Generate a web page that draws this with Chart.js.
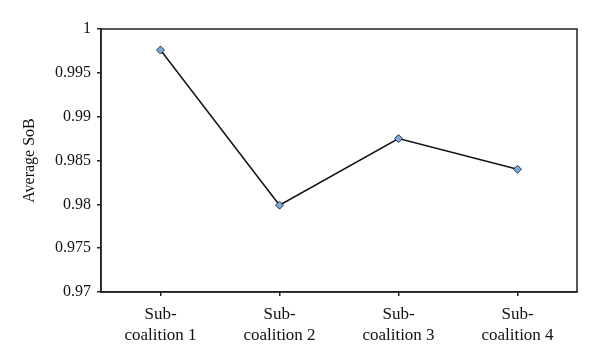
<!DOCTYPE html>
<html lang="en">
<head>
    <meta charset="UTF-8">
    <title>Average SoB</title>
    <script src="https://cdn.jsdelivr.net/npm/chart.js"></script>
    <style>
        body {
            margin: 0;
            background: #ffffff;
        }
        #wrap {
            width: 600px;
            height: 363px;
        }
    </style>
</head>
<body>
    <div id="wrap"><canvas id="sobChart"></canvas></div>

    <script>
        // Data
        const categories = [['Sub-', 'coalition 1'], ['Sub-', 'coalition 2'], ['Sub-', 'coalition 3'], ['Sub-', 'coalition 4']];
        const avgSoB = [0.9976, 0.9799, 0.9875, 0.9840];
        const yTicks = [0.97, 0.975, 0.98, 0.985, 0.99, 0.995, 1];
        const yTickLabels = ['0.97', '0.975', '0.98', '0.985', '0.99', '0.995', '1'];

        // draws the box round the plot area (top and right sides too)
        const frame = {
            id: 'frame',
            afterDraw(chart) {
                const a = chart.chartArea;
                const ctx = chart.ctx;
                ctx.save();
                ctx.strokeStyle = '#222';
                ctx.lineWidth = 1.5;
                ctx.strokeRect(a.left, a.top, a.right - a.left, a.bottom - a.top);
                ctx.restore();
            }
        };

        const serif = '"Liberation Serif", "Times New Roman", serif';

        const ctx = document.getElementById('sobChart').getContext('2d');
        const sobChart = new Chart(ctx, {
            type: 'line',
            data: {
                labels: categories,
                datasets: [{
                    data: avgSoB,
                    borderColor: '#111',
                    borderWidth: 1.5,
                    pointStyle: 'rectRot',
                    pointRadius: 4,
                    pointBackgroundColor: '#7fa8d4',
                    pointBorderColor: '#1f3552',
                    pointBorderWidth: 1,
                    tension: 0
                }]
            },
            options: {
                responsive: true,
                maintainAspectRatio: false,
                animation: false,
                layout: { padding: { left: 20, right: 23, top: 29, bottom: 0 } },
                plugins: {
                    legend: { display: false },
                    tooltip: { enabled: false }
                },
                scales: {
                    x: {
                        offset: true,
                        grid: {
                            drawOnChartArea: false,
                            drawTicks: true,
                            tickLength: 4,
                            color: '#222',
                            lineWidth: 1.5
                        },
                        border: { color: '#222', width: 1.5 },
                        ticks: {
                            color: '#111',
                            font: { family: serif, size: 17, lineHeight: 1.25 },
                            maxRotation: 0,
                            autoSkip: false,
                            padding: 8
                        },
                        afterFit(scale) { scale.height = 71; }
                    },
                    y: {
                        min: 0.97,
                        max: 1,
                        afterBuildTicks(scale) {
                            scale.ticks = yTicks.map(v => ({ value: v }));
                        },
                        grid: {
                            drawOnChartArea: false,
                            drawTicks: true,
                            tickLength: 4,
                            color: '#222',
                            lineWidth: 1.5
                        },
                        border: { color: '#222', width: 1.5 },
                        ticks: {
                            color: '#111',
                            font: { family: serif, size: 16 },
                            padding: 6,
                            callback: (value, i) => yTickLabels[i]
                        },
                        title: {
                            display: true,
                            text: 'Average SoB',
                            color: '#111',
                            font: { family: serif, size: 16 },
                            padding: { top: 0, bottom: 4 }
                        },
                        afterFit(scale) { scale.width = 81; }
                    }
                }
            },
            plugins: [frame]
        });
    </script>
</body>
</html>
